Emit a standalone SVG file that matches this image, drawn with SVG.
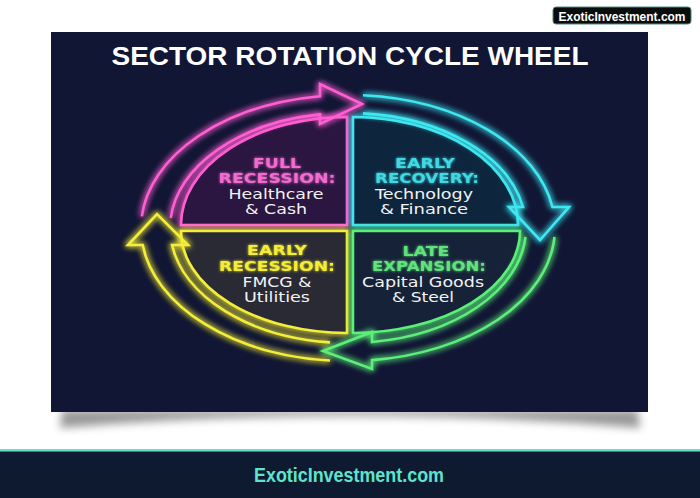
<svg xmlns="http://www.w3.org/2000/svg" width="700" height="498" viewBox="0 0 700 498">
<defs>
<style>
.hd{font-family:"DejaVu Sans","Liberation Sans",sans-serif;font-weight:bold;font-size:14.5px;text-anchor:middle}
.bd{font-family:"DejaVu Sans","Liberation Sans",sans-serif;font-size:14px;fill:#f2f2f2;text-anchor:middle}
.neon{fill:none;stroke-width:2.6;stroke-linejoin:miter;filter:url(#glow)}
.box{stroke-width:2.6;filter:url(#glow)}
</style>
<filter id="glow" x="-20%" y="-20%" width="140%" height="140%">
<feGaussianBlur in="SourceGraphic" stdDeviation="3" result="b"/>
<feMerge><feMergeNode in="b"/><feMergeNode in="b"/><feMergeNode in="SourceGraphic"/></feMerge>
</filter>
<filter id="tglow" x="-20%" y="-50%" width="140%" height="200%">
<feGaussianBlur in="SourceGraphic" stdDeviation="1.5" result="b"/>
<feMerge><feMergeNode in="b"/><feMergeNode in="SourceGraphic"/></feMerge>
</filter>
<filter id="shadow" x="-10%" y="-100%" width="120%" height="300%">
<feGaussianBlur stdDeviation="4"/>
</filter>
</defs>
<rect width="700" height="498" fill="#ffffff"/>
<!-- panel shadow -->
<path d="M62,410 L638,410 L640,428 Q350,404 60,428 Z" fill="#555" opacity="0.6" filter="url(#shadow)"/>
<rect x="51" y="32" width="597" height="380" fill="#111634"/>
<text x="350" y="65" font-family="'Liberation Sans',Arial,sans-serif" font-weight="bold" font-size="26" fill="#ffffff" text-anchor="middle" textLength="477" lengthAdjust="spacingAndGlyphs">SECTOR ROTATION CYCLE WHEEL</text>

<g id="q-full-recession">
<path class="box" d="M347,225 H181 A166,108 0 0 1 347,117 Z" fill="#2a1740" stroke="#ff5fd2"/>
<g filter="url(#tglow)">
<text class="hd" x="277" y="168" fill="#f36bd0" textLength="48" lengthAdjust="spacingAndGlyphs">FULL</text>
<text class="hd" x="277" y="183" fill="#f36bd0" textLength="117" lengthAdjust="spacingAndGlyphs">RECESSION:</text>
</g>
<text class="bd" x="276" y="199" textLength="95" lengthAdjust="spacingAndGlyphs">Healthcare</text>
<text class="bd" x="276" y="214" textLength="62" lengthAdjust="spacingAndGlyphs">&amp; Cash</text>
</g>

<g id="q-early-recovery">
<path class="box" d="M353,225 V117 A165,108 0 0 1 518,225 Z" fill="#10283c" stroke="#3fe6f0"/>
<g filter="url(#tglow)">
<text class="hd" x="425" y="168" fill="#3fd8e2" textLength="60" lengthAdjust="spacingAndGlyphs">EARLY</text>
<text class="hd" x="427" y="183" fill="#3fd8e2" textLength="104" lengthAdjust="spacingAndGlyphs">RECOVERY:</text>
</g>
<text class="bd" x="424" y="199" textLength="98" lengthAdjust="spacingAndGlyphs">Technology</text>
<text class="bd" x="424" y="214" textLength="88" lengthAdjust="spacingAndGlyphs">&amp; Finance</text>
</g>

<g id="q-early-recession">
<path class="box" d="M347,231 V333 A166,102 0 0 1 181,231 Z" fill="#2a2b36" stroke="#f4ee3a"/>
<g filter="url(#tglow)">
<text class="hd" x="277" y="255" fill="#f4ec34" textLength="60" lengthAdjust="spacingAndGlyphs">EARLY</text>
<text class="hd" x="277" y="271" fill="#f4ec34" textLength="116" lengthAdjust="spacingAndGlyphs">RECESSION:</text>
</g>
<text class="bd" x="277" y="287" textLength="69" lengthAdjust="spacingAndGlyphs">FMCG &amp;</text>
<text class="bd" x="277" y="302" textLength="66" lengthAdjust="spacingAndGlyphs">Utilities</text>
</g>

<g id="q-late-expansion">
<path class="box" d="M353,231 H520 A167,102 0 0 1 353,333 Z" fill="#122338" stroke="#5cef7a"/>
<g filter="url(#tglow)">
<text class="hd" x="426" y="256" fill="#5ee37a" textLength="47" lengthAdjust="spacingAndGlyphs">LATE</text>
<text class="hd" x="429" y="271" fill="#5ee37a" textLength="114" lengthAdjust="spacingAndGlyphs">EXPANSION:</text>
</g>
<text class="bd" x="423" y="287" textLength="122" lengthAdjust="spacingAndGlyphs">Capital Goods</text>
<text class="bd" x="423" y="302" textLength="62" lengthAdjust="spacingAndGlyphs">&amp; Steel</text>
</g>

<g id="connectors">
<path class="neon" stroke="#ff5fd2" d="M141.8,216.4 A207,133 0 0 1 320,96.2 L320,84 L362,104 L320,124 L320,114.4 A178,115 0 0 0 170.7,218"/>
<path class="neon" stroke="#3fe6f0" d="M363,95.3 A207,133 0 0 1 552.4,207 L569,207 L540,240 L509,207 L523,207 A178,115 0 0 0 363,113.4"/>
<path class="neon" stroke="#5cef7a" d="M554.5,237 A207,133 0 0 1 372,360.1 L372,369 L323,351 L372,332 L372,342 A178,115 0 0 0 525.5,237"/>
<path class="neon" stroke="#f4ee3a" d="M330,360.5 A207,133 0 0 1 142.7,245 L128,245 L157,214 L188,245 L172,245 A178,115 0 0 0 330,342.4"/>
</g>

<g id="badge">
<rect x="553" y="7" width="138" height="17" rx="3" fill="#0b0d0d" stroke="#4f8a82" stroke-width="1"/>
<text x="622" y="21" font-family="'Liberation Sans',Arial,sans-serif" font-weight="bold" font-size="12" fill="#ffffff" text-anchor="middle" textLength="127" lengthAdjust="spacingAndGlyphs">ExoticInvestment.com</text>
</g>

<g id="footer">
<rect x="0" y="450" width="700" height="48" fill="#0e1a2f"/>
<rect x="0" y="449" width="700" height="2.5" fill="#5fe3cc"/>
<text x="349" y="482" font-family="'Liberation Sans',Arial,sans-serif" font-weight="bold" font-size="19.5" fill="#5fe3cc" text-anchor="middle" textLength="190" lengthAdjust="spacingAndGlyphs">ExoticInvestment.com</text>
</g>
</svg>
